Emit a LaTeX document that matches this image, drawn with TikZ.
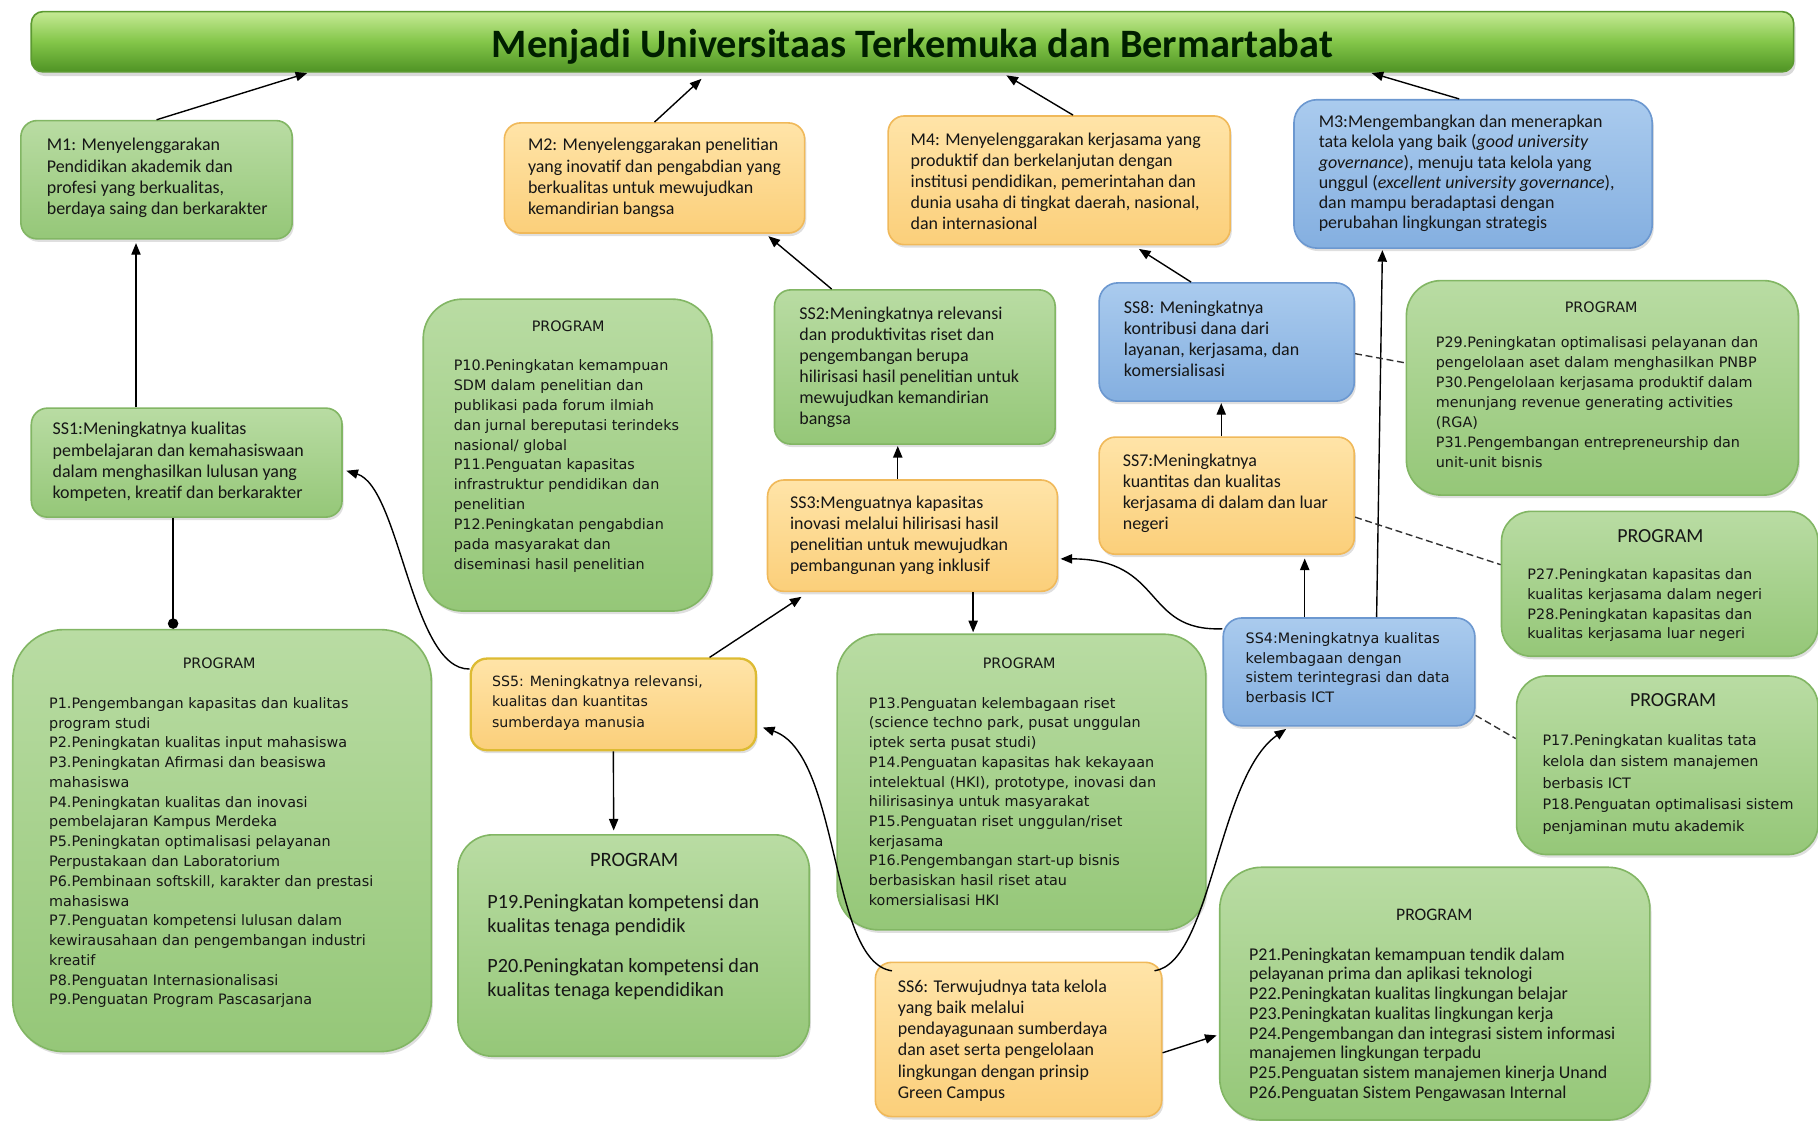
\documentclass[tikz,border=0pt]{standalone}
\usepackage{fontspec}
\setmainfont{Carlito}
\newfontfamily\vfont{DejaVu Sans}
\usetikzlibrary{arrows.meta,shadows,fit,calc}
\definecolor{gtop}{HTML}{B9DCA3}
\definecolor{gbot}{HTML}{95C778}
\definecolor{gdraw}{HTML}{82B664}
\definecolor{otop}{HTML}{FFE4A8}
\definecolor{obot}{HTML}{FBCF7A}
\definecolor{odraw}{HTML}{F0B95A}
\definecolor{ydraw}{HTML}{DDBB33}
\definecolor{btop}{HTML}{AACBEE}
\definecolor{bbot}{HTML}{84AFE0}
\definecolor{bdraw}{HTML}{6C98D0}
\definecolor{ttop}{HTML}{C6EA95}
\definecolor{tmid}{HTML}{83C649}
\definecolor{tbot}{HTML}{4F9324}
\definecolor{tdraw}{HTML}{5C9A31}
\definecolor{txt}{HTML}{161616}
\tikzset{
  bx/.style={rounded corners=#1, inner sep=0pt, line width=0.7pt,
    drop shadow={opacity=0.25, shadow xshift=0.7pt, shadow yshift=-1.3pt}},
  gbox/.style={bx=#1, draw=gdraw, top color=gtop, bottom color=gbot},
  gbox/.default=7pt,
  obox/.style={bx=#1, draw=odraw, top color=otop, bottom color=obot},
  obox/.default=7pt,
  bbox/.style={bx=#1, draw=bdraw, top color=btop, bottom color=bbot},
  bbox/.default=8pt,
  ct/.style={font=\fontsize{7.75}{9.1}\selectfont, align=left, inner sep=0pt, anchor=north west, text=txt},
  vt/.style={font=\vfont\fontsize{6.2}{8.53}\selectfont, align=left, inner sep=0pt, anchor=north west, text=txt},
  vhead/.style={font=\vfont\fontsize{6.2}{7}\selectfont, inner sep=0pt, text=txt},
  chead/.style={font=\fontsize{8.6}{10}\selectfont, inner sep=0pt, text=txt},
  arr/.style={-{Triangle[length=5pt,width=4pt]}, line width=0.6pt, draw=black},
  dotend/.style={-{Circle[length=4.5pt]}, line width=0.6pt, draw=black},
  dashlink/.style={line width=0.6pt, draw=black!80, dash pattern=on 3pt off 1.6pt},
}
\begin{document}
\begin{tikzpicture}[x=0.5pt,y=-0.5pt]
\useasboundingbox (0,0) rectangle (1568,966);

% title bar
\node[rounded corners=5pt, inner sep=0pt, draw=tdraw, line width=0.7pt,
  top color=ttop, bottom color=tbot, middle color=tmid,
  drop shadow={opacity=0.3, shadow xshift=0.8pt, shadow yshift=-1.8pt},
  fit={(27,10) (1547,62)}] (title) {};
\node[font=\bfseries\fontsize{17.4}{20}\selectfont, text=black!88!green, inner sep=0pt] (titlet) at (787,40) {Menjadi Universitaas Terkemuka dan Bermartabat};
\coordinate (t1) at (265,63);
\coordinate (t2) at (605,68);
\coordinate (t3) at (868,65);
\coordinate (t4) at (1183,63);

% mission boxes
\node[gbox, fit={(18,104) (252,206)}] (M1) {};
\node[ct] (M1t) at (40,119) {M1: Menyelenggarakan\\Pendidikan akademik dan\\profesi yang berkualitas,\\berdaya saing dan berkarakter};

\node[obox, fit={(435,106) (694,201)}] (M2) {};
\node[ct] (M2t) at (455,119) {M2: Menyelenggarakan penelitian\\yang inovatif dan pengabdian yang\\berkualitas untuk mewujudkan\\kemandirian bangsa};

\node[obox, fit={(766,100) (1061,211)}] (M4) {};
\node[ct] (M4t) at (785,114) {M4: Menyelenggarakan kerjasama yang\\produktif dan berkelanjutan dengan\\institusi pendidikan, pemerintahan dan\\dunia usaha di tingkat daerah, nasional,\\dan internasional};

\node[bbox=10pt, fit={(1116,86) (1425,214)}] (M3) {};
\node[ct, font=\fontsize{7.75}{8.7}\selectfont] (M3t) at (1137,99) {M3:Mengembangkan dan menerapkan\\tata kelola yang baik (\textit{good university}\\\textit{governance}), menuju tata kelola yang\\unggul (\textit{excellent university governance}),\\dan mampu beradaptasi dengan\\perubahan lingkungan strategis};

% SS1
\node[gbox, fit={(27,352) (295,446)}] (SS1) {};
\node[ct] (SS1t) at (45,364) {SS1:Meningkatnya kualitas\\pembelajaran dan kemahasiswaan\\dalam menghasilkan lulusan yang\\kompeten, kreatif dan berkarakter};

% P10-12
\node[gbox=17pt, fit={(365,258) (614,527)}] (PB) {};
\node[vhead] (PBh) at (490,281) {PROGRAM};
\node[vt, font=\vfont\fontsize{6.2}{8.55}\selectfont] (PBt) at (391,310) {P10.Peningkatan kemampuan\\SDM dalam penelitian dan\\publikasi pada forum ilmiah\\dan jurnal bereputasi terindeks\\nasional/ global\\P11.Penguatan kapasitas\\infrastruktur pendidikan dan\\penelitian\\P12.Peningkatan pengabdian\\pada masyarakat dan\\diseminasi hasil penelitian};

% SS2
\node[gbox, fit={(668,250) (910,383)}] (SS2) {};
\node[ct] (SS2t) at (689,264) {SS2:Meningkatnya relevansi\\dan produktivitas riset dan\\pengembangan berupa\\hilirisasi hasil penelitian untuk\\mewujudkan kemandirian\\bangsa};

% SS3
\node[obox, fit={(662,414) (912,510)}] (SS3) {};
\node[ct] (SS3t) at (681,427) {SS3:Menguatnya kapasitas\\inovasi melalui hilirisasi hasil\\penelitian untuk mewujudkan\\pembangunan yang inklusif};

% SS8
\node[bbox, fit={(948,244) (1168,346)}] (SS8) {};
\node[ct] (SS8t) at (969,259) {SS8: Meningkatnya\\kontribusi dana dari\\layanan, kerjasama, dan\\komersialisasi};

% SS7
\node[obox, fit={(948,377) (1168,478)}] (SS7) {};
\node[ct] (SS7t) at (968,391) {SS7:Meningkatnya\\kuantitas dan kualitas\\kerjasama di dalam dan luar\\negeri};

% P29-31
\node[gbox=15pt, fit={(1213,242) (1551,427)}] (PE) {};
\node[vhead] (PEh) at (1381,265) {PROGRAM};
\node[vt, font=\vfont\fontsize{6.2}{8.6}\selectfont] (PEt) at (1238,290) {P29.Peningkatan optimalisasi pelayanan dan\\pengelolaan aset dalam menghasilkan PNBP\\P30.Pengelolaan kerjasama produktif dalam\\menunjang revenue generating activities\\(RGA)\\P31.Pengembangan entrepreneurship dan\\unit-unit bisnis};

% P27-28
\node[gbox=13pt, fit={(1295,441) (1568,566)}] (PF) {};
\node[chead] (PFh) at (1432,462) {PROGRAM};
\node[vt] (PFt) at (1317,490) {P27.Peningkatan kapasitas dan\\kualitas kerjasama dalam negeri\\P28.Peningkatan kapasitas dan\\kualitas kerjasama luar negeri};

% SS4
\node[bbox, fit={(1055,533) (1272,626)}] (SS4) {};
\node[vt] (SS4t) at (1074,545) {SS4:Meningkatnya kualitas\\kelembagaan dengan\\sistem terintegrasi dan data\\berbasis ICT};

% P17-18
\node[gbox=13pt, fit={(1308,583) (1568,737)}] (PG) {};
\node[chead] (PGh) at (1443,604) {PROGRAM};
\node[vt, font=\vfont\fontsize{6.2}{9.25}\selectfont] (PGt) at (1330,633) {P17.Peningkatan kualitas tata\\kelola dan sistem manajemen\\berbasis ICT\\P18.Penguatan optimalisasi sistem\\penjaminan mutu akademik};

% P1-9
\node[gbox=22pt, fit={(11,543) (372,907)}] (PA) {};
\node[vhead] (PAh) at (189,572) {PROGRAM};
\node[vt] (PAt) at (42,601) {P1.Pengembangan kapasitas dan kualitas\\program studi\\P2.Peningkatan kualitas input mahasiswa\\P3.Peningkatan Afirmasi dan beasiswa\\mahasiswa\\P4.Peningkatan kualitas dan inovasi\\pembelajaran Kampus Merdeka\\P5.Peningkatan optimalisasi pelayanan\\Perpustakaan dan Laboratorium\\P6.Pembinaan softskill, karakter dan prestasi\\mahasiswa\\P7.Penguatan kompetensi lulusan dalam\\kewirausahaan dan pengembangan industri\\kreatif\\P8.Penguatan Internasionalisasi\\P9.Penguatan Program Pascasarjana};

% SS5
\node[bx=7pt, draw=ydraw, line width=1pt, top color=otop, bottom color=obot, fit={(406,568) (652,647)}] (SS5) {};
\node[vt, font=\vfont\fontsize{6.1}{9}\selectfont] (SS5t) at (424,582) {SS5: Meningkatnya relevansi,\\kualitas dan kuantitas\\sumberdaya manusia};

% P19-20
\node[gbox=15pt, fit={(395,720) (698,911)}] (PC) {};
\node[chead, font=\fontsize{8.8}{10}\selectfont] (PCh) at (547,742) {PROGRAM};
\node[ct, font=\fontsize{8.7}{10.5}\selectfont] (PCt) at (420,771) {P19.Peningkatan kompetensi dan\\kualitas tenaga pendidik\\[6.5pt]P20.Peningkatan kompetensi dan\\kualitas tenaga kependidikan};

% P13-16
\node[gbox=18pt, fit={(722,547) (1040,802)}] (PD) {};
\node[vhead] (PDh) at (879,572) {PROGRAM};
\node[vt, font=\vfont\fontsize{6.2}{8.5}\selectfont] (PDt) at (749,601) {P13.Penguatan kelembagaan riset\\(science techno park, pusat unggulan\\iptek serta pusat studi)\\P14.Penguatan kapasitas hak kekayaan\\intelektual (HKI), prototype, inovasi dan\\hilirisasinya untuk masyarakat\\P15.Penguatan riset unggulan/riset\\kerjasama\\P16.Pengembangan start-up bisnis\\berbasiskan hasil riset atau\\komersialisasi HKI};

% SS6
\node[obox, fit={(755,830) (1002,963)}] (SS6) {};
\node[ct] (SS6t) at (774,845) {SS6: Terwujudnya tata kelola\\yang baik melalui\\pendayagunaan sumberdaya\\dan aset serta pengelolaan\\lingkungan dengan prinsip\\Green Campus};

% P21-26
\node[gbox=18pt, fit={(1052,748) (1423,966)}] (PH) {};
\node[chead, font=\fontsize{7.6}{9}\selectfont] (PHh) at (1237,789) {PROGRAM};
\node[ct, font=\fontsize{7.75}{8.5}\selectfont] (PHt) at (1077,817) {P21.Peningkatan kemampuan tendik dalam\\pelayanan prima dan aplikasi teknologi\\P22.Peningkatan kualitas lingkungan belajar\\P23.Peningkatan kualitas lingkungan kerja\\P24.Pengembangan dan integrasi sistem informasi\\manajemen lingkungan terpadu\\P25.Penguatan sistem manajemen kinerja Unand\\P26.Penguatan Sistem Pengawasan Internal};

% connectors to title
\draw[arr] (M1.north) -- (t1);
\draw[arr] (M2.north) -- (t2);
\draw[arr] ([xshift=6pt]M4.north) -- (t3);
\draw[arr] ([xshift=-6pt]M3.north) -- (t4);

% vertical / straight connectors
\draw[arr] ([xshift=45.5pt]SS1.north west) -- ([xshift=50pt,yshift=-1.5pt]M1.south west);
\draw[dotend] ([xshift=61.5pt]SS1.south west) -- ([xshift=69.5pt]PA.north west);
\draw[arr] ([xshift=25pt]SS2.north west) -- ([xshift=-16pt,yshift=-1pt]M2.south east);
\draw[arr] ([xshift=56.5pt]SS3.north west) -- ([xshift=53.5pt,yshift=-0.5pt]SS2.south west);
\draw[arr] ([xshift=40pt]SS8.north west) -- ([xshift=108.5pt,yshift=-1.5pt]M4.south west);
\draw[arr] ([xshift=53pt]SS7.north west) -- ([xshift=53pt,yshift=-0.5pt]SS8.south west);
\draw[arr] ([xshift=89pt]SS3.south west) -- ([xshift=59pt,yshift=0.5pt]PD.north west);
\draw[arr] ([xshift=103.5pt]SS5.north west) -- ([xshift=15pt,yshift=-2pt]SS3.south west);
\draw[arr] ([xshift=62pt]SS5.south west) -- ([xshift=67.5pt,yshift=1.5pt]PC.north west);
\draw[arr] ([yshift=-5.75pt]SS6.east) -- ([xshift=-1pt,yshift=-18pt]PH.west);
\draw[arr] ([xshift=35.5pt]SS4.north west) -- ([xshift=89pt,yshift=-1.5pt]SS7.south west);
\draw[arr] ([xshift=66.5pt]SS4.north west) -- ([xshift=38.5pt,yshift=-0.5pt]M3.south west);

% curved connectors
\draw[arr] ([yshift=-5pt]SS5.north west) .. controls (355,578) and (345,420) .. ([xshift=1.5pt,yshift=-3.5pt]SS1.east);
\draw[arr] ([xshift=7.5pt,yshift=-4pt]SS6.north west) .. controls (715,830) and (725,650) .. ([xshift=2.5pt,yshift=-10pt]SS5.east);
\draw[arr] ([xshift=-3.5pt,yshift=-4pt]SS6.north east) .. controls (1045,830) and (1050,670) .. ([xshift=27.5pt,yshift=-1pt]SS4.south west);
\draw[arr] ([yshift=-5pt]SS4.north west) .. controls (985,545) and (1005,482) .. ([xshift=1pt,yshift=-10pt]SS3.east);

% dashed links
\draw[dashlink] ([yshift=-5pt]SS8.east) -- ([yshift=10.75pt]PE.west);
\draw[dashlink] ([yshift=-9.25pt]SS7.east) -- ([yshift=8.25pt]PF.west);
\draw[dashlink] ([yshift=-18.75pt]SS4.east) -- ([yshift=11.5pt]PG.west);
\end{tikzpicture}
\end{document}
